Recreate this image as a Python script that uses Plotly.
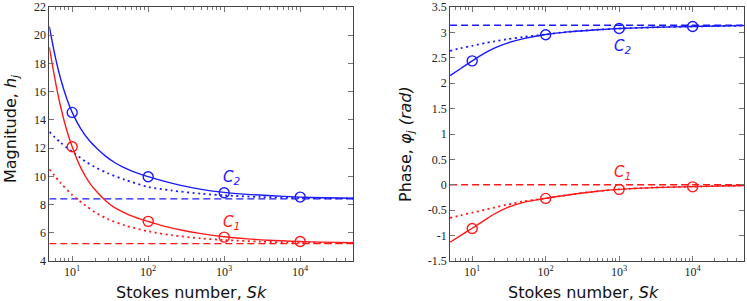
import plotly.graph_objects as go

# ---------------- data ----------------
sk = [5, 6, 7, 8.5, 10, 13, 17, 21.5, 28, 35.7, 46, 59, 77, 100, 160, 269, 500, 1000, 2000, 3750, 10000, 20000, 50000]
mag_c2 = [20.62, 18.45, 16.97, 15.5, 14.53, 13.36, 12.5, 11.94, 11.4, 11.0, 10.67, 10.41, 10.18, 9.98, 9.66, 9.36, 9.08, 8.86, 8.725, 8.64, 8.53, 8.485, 8.45]
mag_c1 = [19.15, 16.75, 15.0, 13.25, 12.1, 10.6, 9.52, 8.85, 8.24, 7.8, 7.48, 7.21, 6.99, 6.8, 6.47, 6.2, 5.94, 5.72, 5.57, 5.47, 5.38, 5.34, 5.30]

sk_d = [5, 7, 10, 15, 20, 30, 50, 100, 200, 500, 1000, 3000, 10000, 50000]
mag_c2_asym = [13.15, 12.4, 11.75, 11.05, 10.65, 10.2, 9.75, 9.25, 9.0, 8.77, 8.65, 8.54, 8.47, 8.43]
mag_c1_asym = [10.5, 9.55, 8.68, 7.93, 7.45, 6.95, 6.51, 6.11, 5.83, 5.6, 5.49, 5.37, 5.30, 5.26]

sk_p = [5, 7, 10, 15, 20, 30, 50, 100, 200, 500, 1000, 3000, 10000, 50000]
ph_c2 = [2.15, 2.29, 2.44, 2.595, 2.69, 2.79, 2.877, 2.958, 3.01, 3.052, 3.076, 3.10, 3.117, 3.133]
ph_c1 = [-1.13, -0.995, -0.855, -0.69, -0.575, -0.45, -0.345, -0.265, -0.2, -0.128, -0.09, -0.055, -0.035, -0.015]
ph_c2_asym = [2.635, 2.69, 2.737, 2.79, 2.823, 2.865, 2.91, 2.958, 3.01, 3.052, 3.076, 3.10, 3.117, 3.133]
ph_c1_asym = [-0.65, -0.6, -0.55, -0.49, -0.448, -0.39, -0.325, -0.265, -0.2, -0.128, -0.09, -0.055, -0.035, -0.015]

sk_lim = [5, 50000]
mag_c2_lim = [8.4, 8.4]
mag_c1_lim = [5.23, 5.23]
ph_c2_lim = [3.14159, 3.14159]
ph_c1_lim = [0.0, 0.0]

sk_sim = [10, 100, 1000, 10000]
sim_mag_c2 = [14.53, 9.97, 8.84, 8.53]
sim_mag_c1 = [12.1, 6.81, 5.69, 5.38]
sim_ph_c2 = [2.44, 2.955, 3.076, 3.115]
sim_ph_c1 = [-0.86, -0.268, -0.09, -0.04]

x_ticks = [10, 100, 1000, 10000]
x_ticktext = ["10<sup>1</sup>", "10<sup>2</sup>", "10<sup>3</sup>", "10<sup>4</sup>"]
mag_ticks = [4, 6, 8, 10, 12, 14, 16, 18, 20, 22]
ph_ticks = [-1.5, -1, -0.5, 0, 0.5, 1, 1.5, 2, 2.5, 3, 3.5]
ph_ticktext = ["-1.5", "-1", "-0.5", "0", "0.5", "1", "1.5", "2", "2.5", "3", "3.5"]

BLUE = "#1a1aff"
RED = "#ff1a1a"

fig = go.Figure()

def add_set(xa, ya, x, y, color, dash, width=1.4):
    fig.add_trace(go.Scatter(x=x, y=y, mode="lines", xaxis=xa, yaxis=ya,
                             line=dict(color=color, width=width, dash=dash, shape="spline", smoothing=0.8),
                             showlegend=False, hoverinfo="skip"))

DOT = "2px,3.5px"
DASH = "7px,4px"

def add_markers(xa, ya, y, c):
    fig.add_trace(go.Scatter(x=sk_sim, y=y, mode="markers", xaxis=xa, yaxis=ya,
                             marker=dict(symbol="circle-open", size=10, color=c, line=dict(width=1.4, color=c)),
                             showlegend=False, hoverinfo="skip"))

# left panel
add_set("x", "y", sk_lim, mag_c2_lim, BLUE, DASH)
add_set("x", "y", sk_lim, mag_c1_lim, RED, DASH)
add_set("x", "y", sk_d, mag_c2_asym, BLUE, DOT, 1.8)
add_set("x", "y", sk_d, mag_c1_asym, RED, DOT, 1.8)
add_set("x", "y", sk, mag_c2, BLUE, "solid")
add_set("x", "y", sk, mag_c1, RED, "solid")
add_markers("x", "y", sim_mag_c2, BLUE)
add_markers("x", "y", sim_mag_c1, RED)

# right panel
add_set("x2", "y2", sk_lim, ph_c2_lim, BLUE, DASH)
add_set("x2", "y2", sk_lim, ph_c1_lim, RED, DASH)
add_set("x2", "y2", sk_p, ph_c2_asym, BLUE, DOT, 1.8)
add_set("x2", "y2", sk_p, ph_c1_asym, RED, DOT, 1.8)
add_set("x2", "y2", sk_p, ph_c2, BLUE, "solid")
add_set("x2", "y2", sk_p, ph_c1, RED, "solid")
add_markers("x2", "y2", sim_ph_c2, BLUE)
add_markers("x2", "y2", sim_ph_c1, RED)

tickfont = dict(family="Liberation Serif, Times New Roman, serif", size=12, color="#222")
titlefont = dict(family="DejaVu Sans", size=16, color="#111")
axis_common = dict(showline=True, linecolor="#444", linewidth=1, mirror="ticks",
                   ticks="inside", ticklen=5, tickcolor="#777", showgrid=False, zeroline=False,
                   tickfont=tickfont, ticklabeloverflow="allow")

xax = dict(type="log", range=[0.699, 4.699], tickvals=x_ticks, ticktext=x_ticktext,
           minor=dict(ticks="inside", ticklen=3, tickcolor="#777", showgrid=False, dtick="D1"),
           **axis_common)

fig.update_layout(
    width=747, height=301,
    margin=dict(l=0, r=0, t=5, b=40),
    paper_bgcolor="white", plot_bgcolor="white",
    xaxis=dict(domain=[0.066, 0.473], anchor="y", **xax),
    xaxis2=dict(domain=[0.6025, 0.996], anchor="y2", **xax),
    yaxis=dict(domain=[0, 1], anchor="x", range=[4, 22], tickvals=mag_ticks, **axis_common),
    yaxis2=dict(domain=[0, 1], anchor="x2", range=[-1.5, 3.5], tickvals=ph_ticks, ticktext=ph_ticktext,
                **axis_common),
)

# axis titles
fig.add_annotation(x=191.5 / 747, y=-0.125, xref="paper", yref="paper", text="Stokes number, <i>Sk</i>",
                   showarrow=False, font=titlefont, xanchor="center", yanchor="middle")
fig.add_annotation(x=583.5 / 747, y=-0.125, xref="paper", yref="paper", text="Stokes number, <i>Sk</i>",
                   showarrow=False, font=titlefont, xanchor="center", yanchor="middle")
fig.add_annotation(x=11 / 747, y=0.5, xref="paper", yref="paper", text="Magnitude, <i>h<sub>j</sub></i>",
                   showarrow=False, font=titlefont, textangle=-90, xanchor="center", yanchor="middle", yshift=5)
fig.add_annotation(x=406 / 747, y=0.5, xref="paper", yref="paper", text="Phase, <i>φ<sub>j</sub> (rad)</i>",
                   showarrow=False, font=titlefont, textangle=-90, xanchor="center", yanchor="middle", yshift=-10)

labfont_b = dict(family="DejaVu Sans", size=15, color=BLUE)
labfont_r = dict(family="DejaVu Sans", size=15, color=RED)
fig.add_annotation(x=3.1, y=9.92, xref="x", yref="y", text="<i>C<sub>2</sub></i>", showarrow=False, font=labfont_b)
fig.add_annotation(x=3.1, y=6.76, xref="x", yref="y", text="<i>C<sub>1</sub></i>", showarrow=False, font=labfont_r)
fig.add_annotation(x=3.04, y=2.72, xref="x2", yref="y2", text="<i>C<sub>2</sub></i>", showarrow=False, font=labfont_b)
fig.add_annotation(x=3.04, y=0.24, xref="x2", yref="y2", text="<i>C<sub>1</sub></i>", showarrow=False, font=labfont_r)

fig.write_html("out.html", config={"displayModeBar": False},
               post_script="document.body.style.margin='0';document.body.style.padding='0';")
